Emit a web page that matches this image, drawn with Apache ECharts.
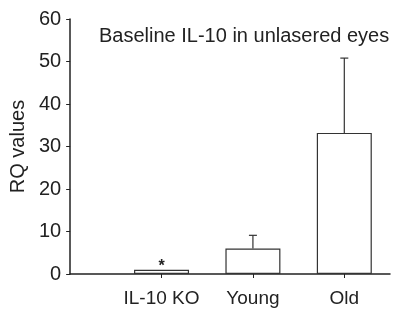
<!DOCTYPE html>
<html>
<head>
<meta charset="utf-8">
<script src="https://cdn.jsdelivr.net/npm/echarts@6/dist/echarts.min.js"></script>
<style>
  html, body { margin: 0; padding: 0; background: #fff; }
  #main { width: 394px; height: 312px; }
</style>
</head>
<body>
<div id="main"></div>
<script>
// groups on the x axis (placed at 1, 2, 3)
var categories = ['IL-10 KO', 'Young', 'Old'];
var positions = [1, 2, 3];
// mean RQ values and upper error
var means = [1, 6, 33.2];
var errors = [0, 3.1, 17.6];
var yTicks = [0, 10, 20, 30, 40, 50, 60];

var chart = echarts.init(document.getElementById('main'), null, { renderer: 'canvas' });

var barData = positions.map(function (p, i) { return [p, means[i]]; });
var errData = positions.map(function (p, i) { return [p, means[i], means[i] + errors[i]]; });

var axisColor = '#222';
var font = 'Liberation Sans, Arial, sans-serif';

var option = {
  animation: false,
  backgroundColor: '#fff',
  title: {
    text: 'Baseline IL-10 in unlasered eyes',
    left: 94,
    top: 21,
    textStyle: { fontSize: 20, fontWeight: 'normal', color: axisColor, fontFamily: font }
  },
  grid: { left: 70, right: 4, top: 19, bottom: 38 },
  xAxis: {
    type: 'value',
    min: 0,
    max: 3.5,
    interval: 1,
    splitLine: { show: false },
    axisLine: { lineStyle: { color: axisColor, width: 1.5 } },
    axisTick: { show: true, length: 4, customValues: positions, lineStyle: { color: axisColor } },
    axisLabel: {
      customValues: positions,
      margin: 15,
      fontSize: 19,
      color: axisColor,
      fontFamily: font,
      formatter: function (v) {
        var i = positions.indexOf(v);
        return i >= 0 ? categories[i] : '';
      }
    }
  },
  yAxis: {
    type: 'value',
    min: yTicks[0],
    max: yTicks[yTicks.length - 1],
    interval: 10,
    name: 'RQ values',
    nameLocation: 'middle',
    nameGap: 38,
    nameTextStyle: { fontSize: 20, color: axisColor, fontFamily: font },
    splitLine: { show: false },
    axisLine: { show: true, lineStyle: { color: axisColor, width: 1.5 } },
    axisTick: { show: true, length: 4, lineStyle: { color: axisColor } },
    axisLabel: { fontSize: 20, color: axisColor, fontFamily: font, margin: 9 }
  },
  series: [
    {
      type: 'bar',
      data: barData,
      barWidth: 55,
      itemStyle: { color: '#fff', borderColor: '#333', borderWidth: 1.2 },
      label: {
        show: true,
        position: 'top',
        distance: -5,
        fontSize: 16,
        fontWeight: 'bold',
        color: '#222',
        formatter: function (p) { return p.dataIndex === 0 ? '*' : ''; }
      },
      z: 2
    },
    {
      type: 'custom',
      data: errData,
      z: 3,
      renderItem: function (params, api) {
        if (api.value(2) <= api.value(1)) return null;
        var low = api.coord([api.value(0), api.value(1)]);
        var high = api.coord([api.value(0), api.value(2)]);
        var style = { stroke: '#333', lineWidth: 1.2 };
        return {
          type: 'group',
          children: [
            { type: 'line', shape: { x1: low[0], y1: low[1], x2: high[0], y2: high[1] }, style: style },
            { type: 'line', shape: { x1: high[0] - 4, y1: high[1], x2: high[0] + 4, y2: high[1] }, style: style }
          ]
        };
      }
    }
  ]
};

chart.setOption(option);
</script>
</body>
</html>
